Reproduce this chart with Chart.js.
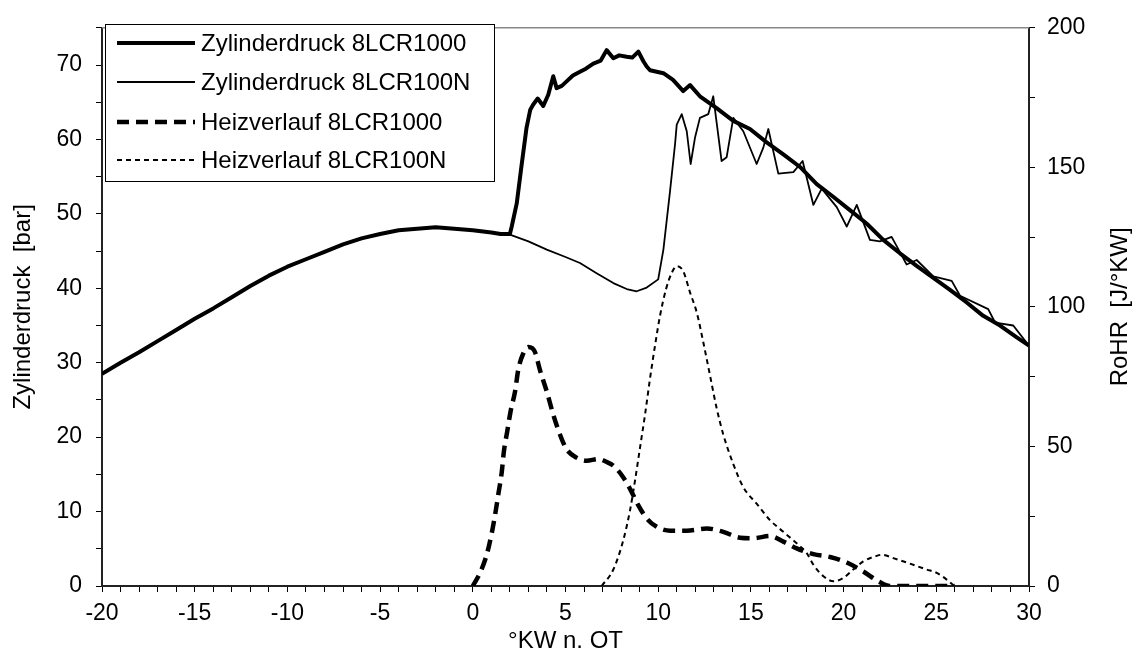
<!DOCTYPE html>
<html>
<head>
<meta charset="utf-8">
<script src="https://cdn.jsdelivr.net/npm/chart.js@4/dist/chart.umd.min.js"></script>
<style>
  html, body { margin: 0; padding: 0; background: #fff; }
  #wrap { width: 1136px; height: 663px; }
</style>
</head>
<body>
<div id="wrap"><canvas id="c" width="1136" height="663"></canvas></div>
<script>
// ---- Data ----
const xTickLabels = [-20, -15, -10, -5, 0, 5, 10, 15, 20, 25, 30];
const leftTickLabels = [0, 10, 20, 30, 40, 50, 60, 70];
const rightTickLabels = [0, 50, 100, 150, 200];

const seriesNames = ['Zylinderdruck 8LCR1000', 'Zylinderdruck 8LCR100N', 'Heizverlauf 8LCR1000', 'Heizverlauf 8LCR100N'];

// Zylinderdruck 8LCR1000 [bar]
const p1000X = [-20,-19,-18,-17,-16,-15,-14,-13,-12,-11,-10,-9,-8,-7,-6,-5,-4,-3,-2,-1,0,1,1.5,2,
  2.1,2.37,2.64,2.9,3.1,3.26,3.5,3.8,4.07,4.34,4.52,4.8,5.06,5.4,5.78,6.1,6.5,6.9,7.22,7.58,7.9,8.3,8.6,8.93,9.2,9.38,9.56,
  10.28,10.8,11.35,11.72,12.25,13.15,14.05,14.95,15.85,16.75,17.65,18.55,19.44,20.34,21.24,22.14,23.04,23.94,24.84,25.74,26.64,27.53,28.44,29.34,30];
const p1000Y = [28.5,30.0,31.4,32.9,34.4,35.9,37.3,38.8,40.3,41.7,42.9,43.9,44.9,45.9,46.7,47.3,47.8,48.0,48.2,48.0,47.8,47.5,47.3,47.3,
  48.3,51.4,56.7,61.6,64.0,64.7,65.5,64.5,66.0,68.5,66.9,67.2,67.8,68.6,69.1,69.5,70.2,70.6,72.0,70.9,71.3,71.1,71.0,71.8,70.5,69.8,69.3,
  68.9,68.0,66.5,67.3,65.8,64.2,62.5,61.4,59.6,58.0,56.3,54.0,52.3,50.5,48.7,46.5,44.7,43.0,41.4,39.8,38.1,36.3,35.0,33.4,32.3];

// Zylinderdruck 8LCR100N [bar]
const p100NX = [-20,-19,-18,-17,-16,-15,-14,-13,-12,-11,-10,-9,-8,-7,-6,-5,-4,-3,-2,-1,0,1,1.5,2,
  3,3.99,5,5.78,6.7,7.58,8.3,8.84,9.38,10,10.28,10.64,10.91,11.0,11.27,11.54,11.75,11.99,12.25,12.7,12.97,13.42,13.69,14.05,14.59,
  15.31,15.67,15.94,16.48,17.29,17.79,18.37,18.82,19.63,20.17,20.71,21.42,21.96,22.59,23.4,23.94,24.84,25.83,26.28,27.8,28.17,29.15,29.93];
const p100NY = [28.5,30.0,31.4,32.9,34.4,35.9,37.3,38.8,40.3,41.7,42.9,43.9,44.9,45.9,46.7,47.3,47.8,48.0,48.2,48.0,47.8,47.5,47.3,47.2,
  46.3,45.2,44.2,43.4,42.0,40.7,39.9,39.6,40.1,41.2,45.2,53.1,59.4,62.0,63.4,61.1,56.7,60.3,62.9,63.4,65.8,57.1,57.6,62.9,61.1,
  56.7,58.9,61.4,55.4,55.6,57.1,51.2,53.4,50.9,48.3,51.2,46.5,46.3,46.9,43.2,43.8,41.6,41.0,39.0,37.2,35.4,35.0,32.5];

// Heizverlauf 8LCR1000 [J/°KW]
const h1000X = [0,0.39,0.75,1.02,1.2,1.38,1.56,1.68,1.86,2.04,2.28,2.45,2.72,3.0,3.35,3.62,3.99,4.34,4.7,5.06,5.6,6.14,6.77,7.2,7.58,
  8.12,8.48,8.93,9.38,9.92,10.64,11.54,12.62,13.51,14.41,15.13,16.03,16.75,17.47,18.37,19.27,20.17,21.06,21.87,22.5,26];
const h1000Y = [0,4.7,11.2,18.9,25.4,33.0,40.7,48.4,55.5,62.6,69.7,77.4,83.3,85.6,83.9,77.4,69.7,61.4,54.3,49.0,46.0,44.9,45.5,44.5,43.1,
  38.9,34.8,28.9,24.2,21.2,19.8,19.8,20.6,19.4,17.3,17.1,17.9,15.9,13.5,11.4,10.4,8.4,5.2,1.7,0,0];

// Heizverlauf 8LCR100N [J/°KW]
const h100NX = [6.95,7.58,8.12,8.48,8.75,9.02,9.29,9.56,9.83,10.1,10.42,10.73,11.0,11.35,11.72,12.08,12.43,12.79,13.15,13.51,14.05,14.59,
  15.31,16.03,16.75,17.47,18.01,18.37,18.91,19.45,19.99,20.52,21.06,21.79,22.05,22.68,23.58,24.48,25.02,25.56,25.92,26];
const h100NY = [0,5.9,16.5,27.1,37.8,49.6,61.4,74.4,86.2,96.9,106.3,112.2,114.6,112.8,105.1,98.0,87.4,75.6,63.8,54.3,43.7,35.4,
  29.5,23.6,19.4,15.3,11.8,7.6,3.5,1.7,2.9,5.9,8.8,10.8,11.2,10.0,8.0,5.9,4.7,2.3,0.3,0];

const toPts = (xs, ys) => xs.map((x, i) => ({ x: x, y: ys[i] }));

const FONT = "'Liberation Sans', Arial, sans-serif";
const styles = [
  { width: 4,   dash: [] },
  { width: 1.8, dash: [] },
  { width: 4.5, dash: [12, 7] },
  { width: 2,   dash: [5, 4] }
];

const overlay = {
  id: 'overlay',
  afterDraw(chart) {
    const ctx = chart.ctx;
    const a = chart.chartArea;
    ctx.save();
    // top frame line
    ctx.strokeStyle = '#888';
    ctx.lineWidth = 1.5;
    ctx.beginPath();
    ctx.moveTo(a.left, a.top);
    ctx.lineTo(a.right, a.top);
    ctx.stroke();

    // legend
    const lx = 105, ly = 24, lw = 389, lh = 157;
    ctx.fillStyle = '#fff';
    ctx.fillRect(lx, ly, lw, lh);
    ctx.strokeStyle = '#000';
    ctx.lineWidth = 1;
    ctx.strokeRect(lx + 0.5, ly + 0.5, lw, lh);
    const rows = [43, 82, 122, 160];
    ctx.font = '24px ' + FONT;
    ctx.textBaseline = 'middle';
    ctx.textAlign = 'left';
    seriesNames.forEach((name, i) => {
      const s = styles[i];
      ctx.strokeStyle = '#000';
      ctx.lineWidth = s.width;
      ctx.setLineDash(s.dash);
      ctx.lineCap = 'butt';
      ctx.beginPath();
      ctx.moveTo(117, rows[i]);
      ctx.lineTo(195, rows[i]);
      ctx.stroke();
      ctx.setLineDash([]);
      ctx.fillStyle = '#000';
      ctx.fillText(name, 201, rows[i] + 1);
    });

    // axis titles
    ctx.fillStyle = '#000';
    ctx.font = '24px ' + FONT;
    ctx.textAlign = 'center';
    ctx.textBaseline = 'middle';
    const cy = (a.top + a.bottom) / 2;
    ctx.save();
    ctx.translate(23, cy);
    ctx.rotate(-Math.PI / 2);
    ctx.fillText('Zylinderdruck  [bar]', 0, 0);
    ctx.restore();
    ctx.save();
    ctx.translate(1120, cy);
    ctx.rotate(-Math.PI / 2);
    ctx.fillText('RoHR  [J/\u00B0KW]', 0, 0);
    ctx.restore();
    ctx.fillText('\u00B0KW n. OT', (a.left + a.right) / 2, 641);
    ctx.restore();
  }
};

const ds = [
  { label: seriesNames[0], data: toPts(p1000X, p1000Y), yAxisID: 'y', borderWidth: styles[0].width, borderDash: styles[0].dash, tension: 0 },
  { label: seriesNames[1], data: toPts(p100NX, p100NY), yAxisID: 'y', borderWidth: styles[1].width, borderDash: styles[1].dash, tension: 0 },
  { label: seriesNames[2], data: toPts(h1000X, h1000Y), yAxisID: 'y1', borderWidth: styles[2].width, borderDash: styles[2].dash, cubicInterpolationMode: 'monotone' },
  { label: seriesNames[3], data: toPts(h100NX, h100NY), yAxisID: 'y1', borderWidth: styles[3].width, borderDash: styles[3].dash, cubicInterpolationMode: 'monotone' }
].map(d => Object.assign({ borderColor: '#000', backgroundColor: '#000', pointRadius: 0, fill: false, borderCapStyle: 'butt', borderJoinStyle: 'round' }, d));

const tickFont = { family: FONT, size: 23 };

new Chart(document.getElementById('c'), {
  type: 'line',
  data: { datasets: ds },
  plugins: [overlay],
  options: {
    responsive: false,
    animation: false,
    devicePixelRatio: 1,
    layout: { padding: { top: 22, left: 0, right: 0, bottom: 0 } },
    plugins: { legend: { display: false }, tooltip: { enabled: false } },
    scales: {
      x: {
        type: 'linear', min: -20, max: 30,
        afterFit(s) { s.height = 77; },
        ticks: {
          stepSize: 1, autoSkip: false, maxRotation: 0, color: '#000', font: tickFont, padding: 8,
          callback: v => (xTickLabels.includes(v) ? String(v) : '')
        },
        grid: { drawOnChartArea: false, drawTicks: true, tickLength: 6, color: '#000', lineWidth: 1 },
        border: { color: '#222', width: 2 }
      },
      y: {
        type: 'linear', position: 'left', min: 0, max: 75,
        afterFit(s) { s.width = 102; },
        ticks: {
          stepSize: 5, autoSkip: false, color: '#000', font: tickFont, padding: 14,
          callback: v => (leftTickLabels.includes(v) ? String(v) : '')
        },
        grid: { drawOnChartArea: false, drawTicks: true, tickLength: 6, color: '#000', lineWidth: 1 },
        border: { color: '#222', width: 2 }
      },
      y1: {
        type: 'linear', position: 'right', min: 0, max: 200,
        afterFit(s) { s.width = 107; },
        ticks: {
          stepSize: 25, autoSkip: false, color: '#000', font: tickFont, padding: 12,
          callback: v => (rightTickLabels.includes(v) ? String(v) : '')
        },
        grid: { drawOnChartArea: false, drawTicks: true, tickLength: 6, color: '#000', lineWidth: 1 },
        border: { color: '#222', width: 2 }
      }
    }
  }
});
</script>
</body>
</html>
